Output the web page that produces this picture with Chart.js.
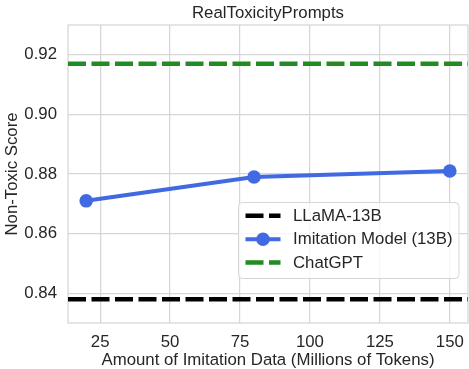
<!DOCTYPE html>
<html>
<head>
<meta charset="utf-8">
<script src="https://cdn.jsdelivr.net/npm/chart.js@4/dist/chart.umd.min.js"></script>
<style>
  html, body { margin: 0; padding: 0; background: #ffffff; }
  #wrap { width: 469px; height: 369px; }
</style>
</head>
<body>
<div id="wrap"><canvas id="c" width="469" height="369"></canvas></div>
<script>
// ---- data ----
const tokens = [20, 80, 150];
const imitationScores = [0.871, 0.879, 0.881];
const llamaScore = 0.838;
const chatgptScore = 0.917;
const xTicks = [25, 50, 75, 100, 125, 150];
const yTicks = [0.84, 0.86, 0.88, 0.90, 0.92];
const xRange = [13.5, 156.5];
const yRange = [0.83, 0.93];
const seriesNames = ['LLaMA-13B', 'Imitation Model (13B)', 'ChatGPT'];
const chartTitle = 'RealToxicityPrompts';

const FONT = "'Liberation Sans', Arial, sans-serif";
const FS = 16.8;
const TEXT = '#262626';
const GRID = '#d6d6d6';
const DASH = [18, 5.5];

const frameAndLegend = {
  id: 'frameAndLegend',
  beforeDatasetsDraw(chart) {
    const {ctx, chartArea: a} = chart;
    ctx.save();
    ctx.strokeStyle = GRID;
    ctx.lineWidth = 1.25;
    ctx.strokeRect(a.left, a.top, a.right - a.left, a.bottom - a.top);
    ctx.restore();
  },
  afterDatasetsDraw(chart) {
    const {ctx} = chart;
    const bx = 238.5, by = 202.5, bw = 220.5, bh = 76, r = 4;
    ctx.save();
    ctx.beginPath();
    ctx.moveTo(bx + r, by);
    ctx.arcTo(bx + bw, by, bx + bw, by + bh, r);
    ctx.arcTo(bx + bw, by + bh, bx, by + bh, r);
    ctx.arcTo(bx, by + bh, bx, by, r);
    ctx.arcTo(bx, by, bx + bw, by, r);
    ctx.closePath();
    ctx.fillStyle = 'rgba(255,255,255,0.8)';
    ctx.fill();
    ctx.strokeStyle = 'rgba(204,204,204,0.8)';
    ctx.lineWidth = 1;
    ctx.stroke();
    const rowsY = [215.7, 239.2, 262.5];
    chart.data.datasets.forEach((ds, i) => {
      const y = rowsY[i];
      ctx.beginPath();
      ctx.setLineDash(ds.borderDash || []);
      ctx.lineDashOffset = 0;
      ctx.strokeStyle = ds.borderColor;
      ctx.lineWidth = ds.borderWidth;
      ctx.lineCap = 'butt';
      ctx.moveTo(245.5, y);
      ctx.lineTo(280.5, y);
      ctx.stroke();
      ctx.setLineDash([]);
      if (ds.pointRadius > 0) {
        ctx.beginPath();
        ctx.arc(263, y, ds.pointRadius, 0, Math.PI * 2);
        ctx.fillStyle = ds.pointBackgroundColor;
        ctx.fill();
      }
      ctx.fillStyle = TEXT;
      ctx.font = FS + 'px ' + FONT;
      ctx.textBaseline = 'middle';
      ctx.textAlign = 'left';
      ctx.fillText(ds.label, 293, y + 0.5);
    });
    ctx.restore();
  }
};

new Chart(document.getElementById('c'), {
  type: 'line',
  data: {
    datasets: [
      {
        label: seriesNames[0],
        data: [{x: xRange[0], y: llamaScore}, {x: xRange[1], y: llamaScore}],
        borderColor: '#000000',
        backgroundColor: '#000000',
        borderWidth: 4.5,
        borderDash: DASH,
        pointRadius: 0,
        order: 3
      },
      {
        label: seriesNames[1],
        data: tokens.map((t, i) => ({x: t, y: imitationScores[i]})),
        borderColor: '#4169e1',
        backgroundColor: '#4169e1',
        pointBackgroundColor: '#4169e1',
        pointBorderColor: '#4169e1',
        borderWidth: 4,
        pointRadius: 6.8,
        pointBorderWidth: 0,
        order: 1
      },
      {
        label: seriesNames[2],
        data: [{x: xRange[0], y: chatgptScore}, {x: xRange[1], y: chatgptScore}],
        borderColor: '#228b22',
        backgroundColor: '#228b22',
        borderWidth: 4.5,
        borderDash: DASH,
        pointRadius: 0,
        order: 2
      }
    ]
  },
  options: {
    responsive: false,
    animation: false,
    devicePixelRatio: 1,
    layout: { autoPadding: false, padding: { left: 0, right: 1, top: 0, bottom: 0 } },
    plugins: {
      legend: { display: false },
      tooltip: { enabled: false },
      title: { display: false }
    },
    scales: {
      x: {
        type: 'linear',
        min: xRange[0],
        max: xRange[1],
        afterBuildTicks: s => { s.ticks = xTicks.map(v => ({value: v})); },
        afterFit: s => { s.height = 46; s.paddingLeft = 0; s.paddingRight = 0; },
        grid: { color: GRID, lineWidth: 1.25, drawTicks: false },
        border: { display: false },
        ticks: {
          color: TEXT, padding: 9, maxRotation: 0,
          font: { family: FONT, size: FS, lineHeight: 1.2 },
          callback: v => String(v)
        },
        title: {
          display: true,
          text: 'Amount of Imitation Data (Millions of Tokens)',
          color: TEXT,
          font: { family: FONT, size: FS, lineHeight: 1 },
          padding: { top: 0, bottom: 0 }
        }
      },
      xTop: {
        type: 'linear',
        axis: 'x',
        position: 'top',
        min: xRange[0],
        max: xRange[1],
        afterFit: s => { s.height = 25; s.paddingLeft = 0; s.paddingRight = 0; },
        grid: { display: false, drawTicks: false },
        border: { display: false },
        ticks: { display: false },
        title: {
          display: true,
          text: chartTitle,
          color: TEXT,
          font: { family: FONT, size: FS, lineHeight: 1 },
          padding: { top: 4.7, bottom: 0 }
        }
      },
      y: {
        type: 'linear',
        min: yRange[0],
        max: yRange[1],
        afterBuildTicks: s => { s.ticks = yTicks.map(v => ({value: v})); },
        afterFit: s => { s.width = 68; s.paddingTop = 0; s.paddingBottom = 0; },
        grid: { color: GRID, lineWidth: 1.25, drawTicks: false },
        border: { display: false },
        ticks: {
          color: TEXT, padding: 11,
          font: { family: FONT, size: FS, lineHeight: 1.2 },
          callback: v => v.toFixed(2)
        },
        title: {
          display: true,
          text: 'Non-Toxic Score',
          color: TEXT,
          font: { family: FONT, size: FS, lineHeight: 1 },
          padding: { top: 4, bottom: 0 }
        }
      }
    }
  },
  plugins: [frameAndLegend]
});
</script>
</body>
</html>
